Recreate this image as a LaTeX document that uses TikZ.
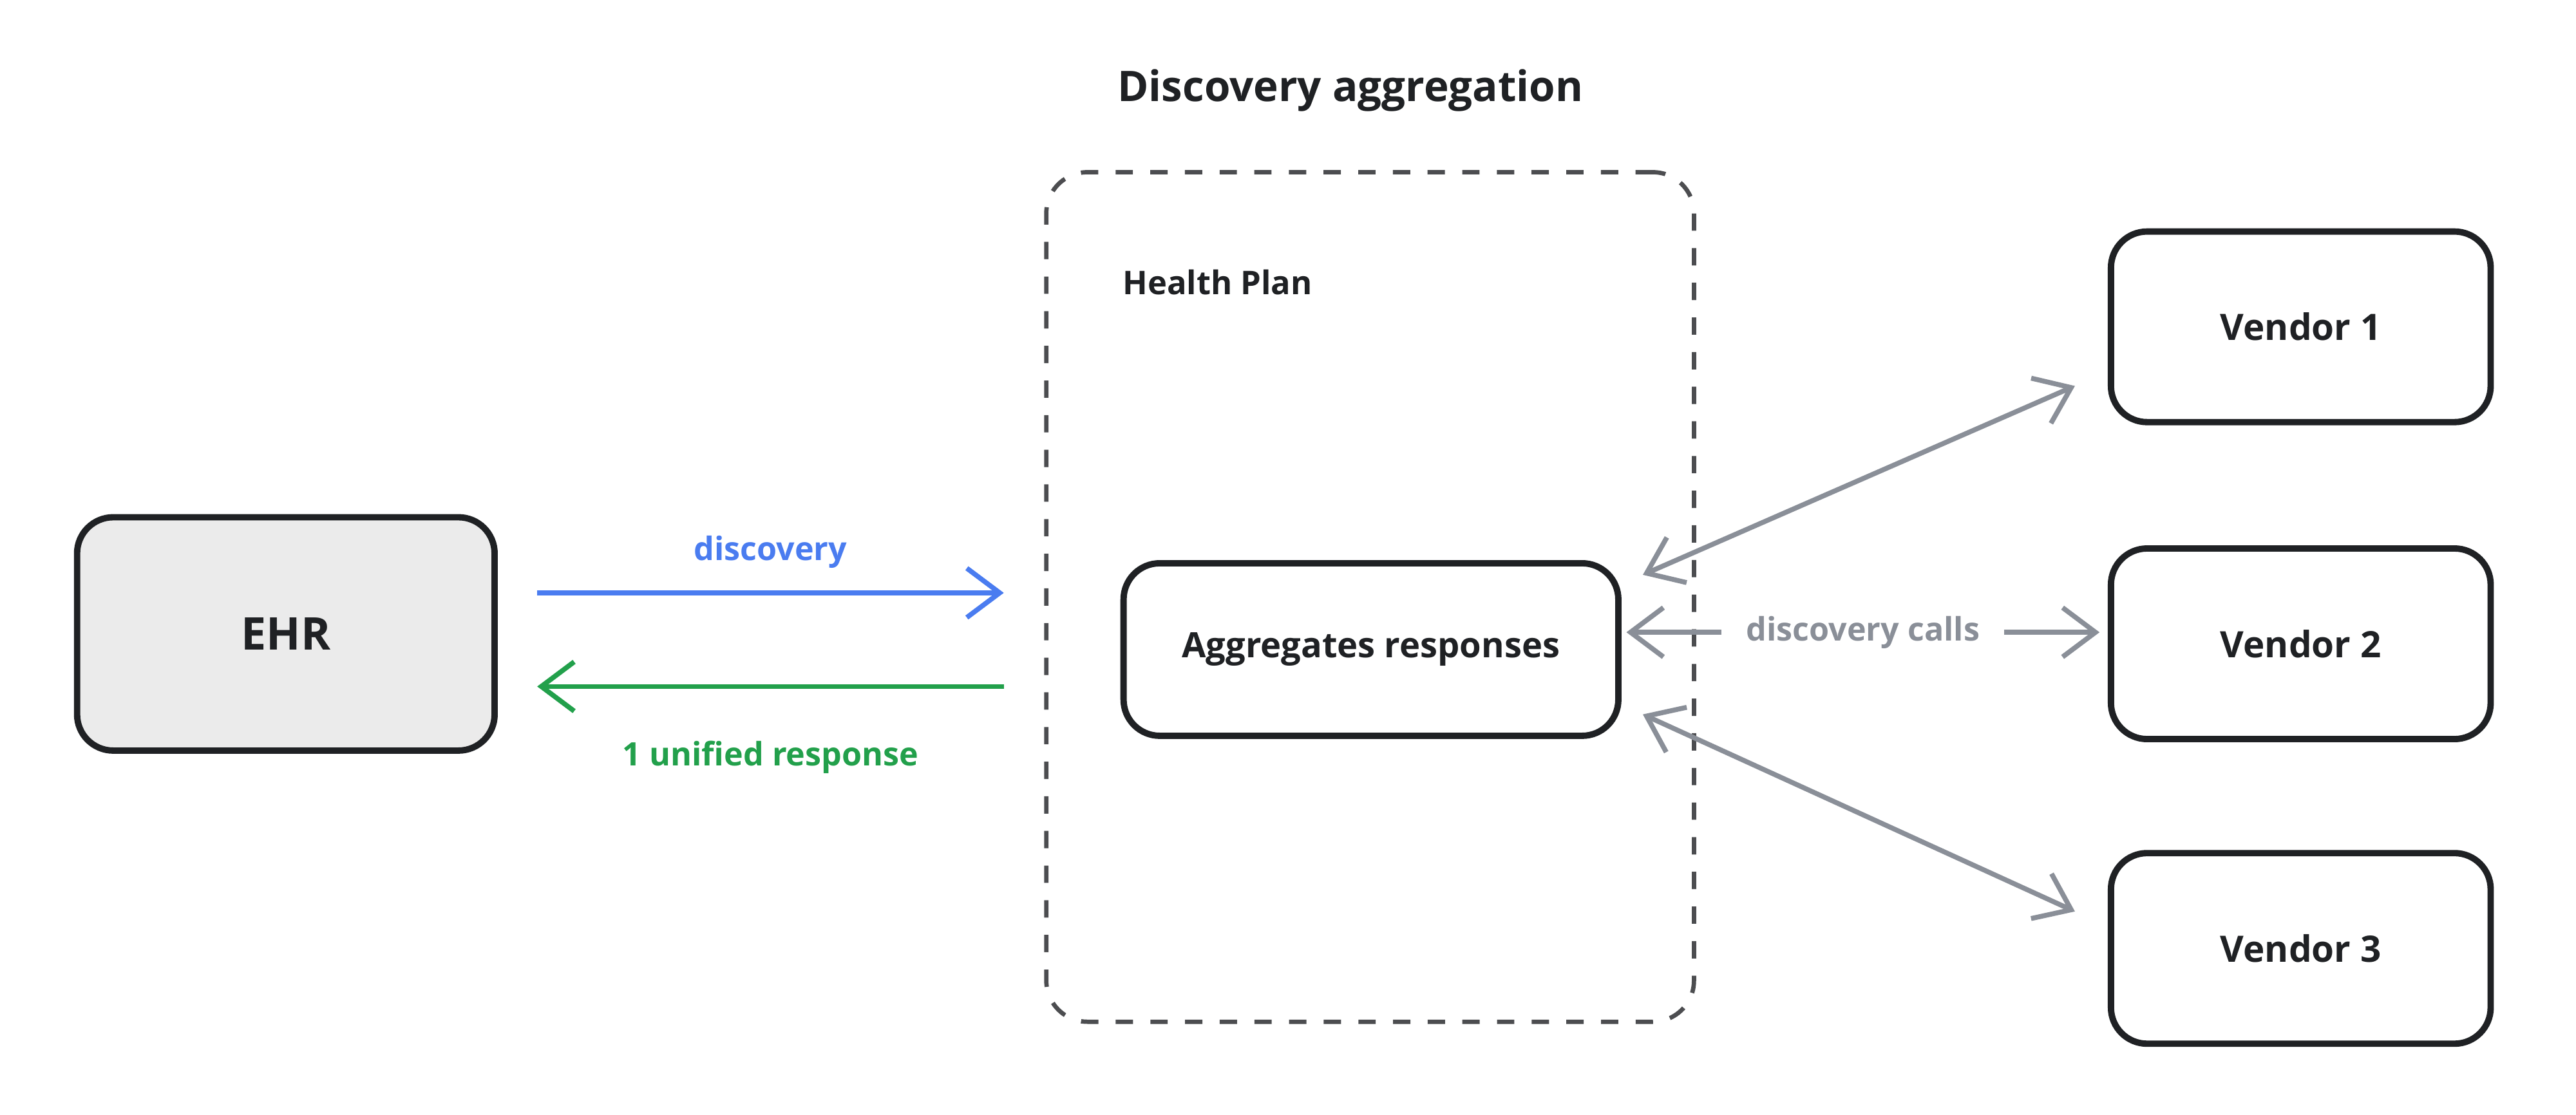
\documentclass[tikz,border=0pt]{standalone}
\usepackage{fontspec}
\setmainfont{Open Sans}
\usetikzlibrary{arrows.meta}
\definecolor{ink}{HTML}{1F2124}
\definecolor{bluec}{HTML}{4A7CF0}
\definecolor{greenc}{HTML}{22A04B}
\definecolor{grayc}{HTML}{8A8F98}
\definecolor{fillc}{HTML}{EBEBEB}
\tikzset{
 box/.style={draw=ink,line width=1.1pt,rounded corners=0.22cm,font=\bfseries\fontsize{6.3}{7}\selectfont,text=ink},
 arr/.style={line width=0.85pt,-{Straight Barb[length=0.2cm,width=0.3cm,line width=0.85pt]}},
 darr/.style={line width=0.85pt,{Straight Barb[length=0.2cm,width=0.3cm,line width=0.85pt]}-{Straight Barb[length=0.2cm,width=0.3cm,line width=0.85pt]}},
 lbl/.style={font=\bfseries\fontsize{5.6}{6.5}\selectfont}
}
\begin{document}
\begin{tikzpicture}[x=0.01cm,y=-0.01cm]
\useasboundingbox (0,0) rectangle (1568,678.6);
\node[font=\bfseries\fontsize{7.3}{8.5}\selectfont,text=ink] (title) at (822,55) {Discovery aggregation};
\node[draw=ink!80,dashed,line width=0.75pt,rounded corners=0.25cm,minimum width=3.94cm,minimum height=5.17cm] (hp) at (834,363.5) {};
\node[anchor=west,font=\bfseries\fontsize{5.65}{6.5}\selectfont,text=ink] (hpl) at (671,172) {Health Plan};
\node[box,fill=fillc,minimum width=2.54cm,minimum height=1.42cm,font=\bfseries\fontsize{7.8}{9}\selectfont] (ehr) at (174,386) {EHR};
\node[box,minimum width=3.01cm,minimum height=1.05cm,font=\bfseries\fontsize{6.05}{7}\selectfont] (agg) at (834.5,395.5) {Aggregates responses};
\node[box,minimum width=2.31cm,minimum height=1.16cm] (v1) at (1400.5,199) {Vendor 1};
\node[box,minimum width=2.31cm,minimum height=1.16cm] (v2) at (1400.5,392) {Vendor 2};
\node[box,minimum width=2.31cm,minimum height=1.16cm] (v3) at (1400.5,577.5) {Vendor 3};
\coordinate (b1) at (327,361); \coordinate (b2) at (611,361);
\coordinate (g1) at (611,418); \coordinate (g2) at (327,418);
\draw[arr,bluec] (b1) -- node[above=0.02cm,lbl,text=bluec] {discovery} (b2);
\draw[arr,greenc] (g1) -- node[below=0.2cm,lbl,text=greenc] {1 unified response} (g2);
\coordinate (a1) at (1000,350); \coordinate (e1) at (1263,235);
\coordinate (a2) at (990,385); \coordinate (e2) at (1278,385);
\coordinate (a3) at (1000,435); \coordinate (e3) at (1263,555);
\draw[darr,grayc] (a1) -- (e1);
\draw[darr,grayc] (a3) -- (e3);
\draw[darr,grayc] (a2) -- node[fill=white,lbl,text=grayc,inner xsep=0.15cm] (dc) {discovery calls} (e2);
\end{tikzpicture}
\end{document}
